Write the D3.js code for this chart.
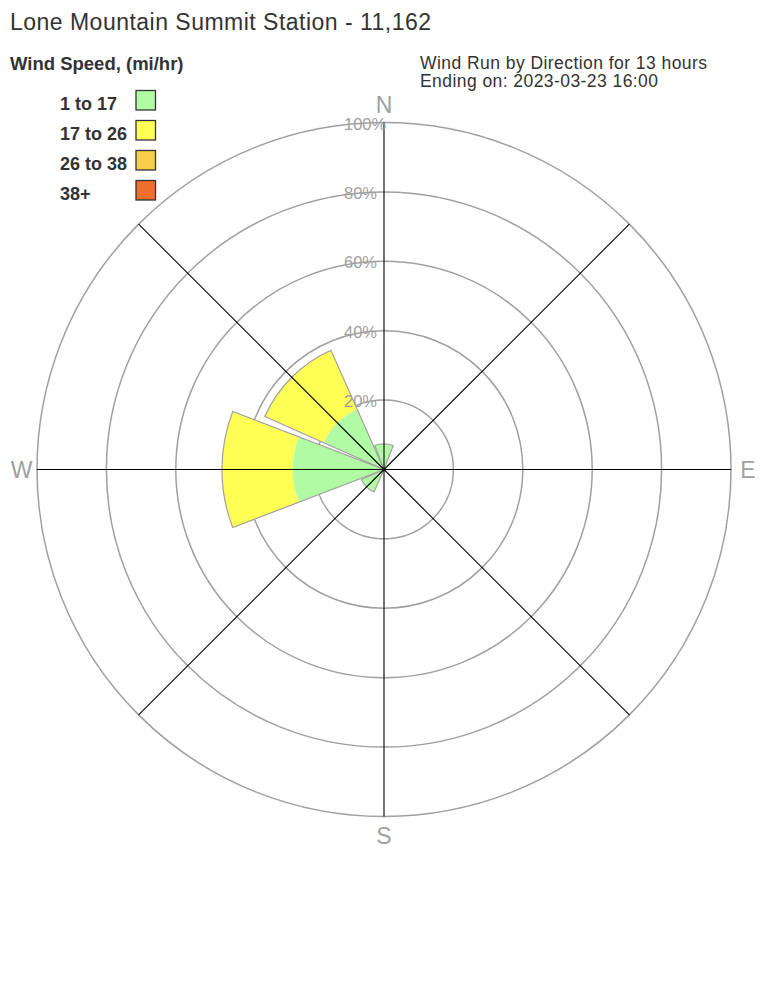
<!DOCTYPE html>
<html>
<head>
<meta charset="utf-8">
<script src="https://cdn.jsdelivr.net/npm/d3@7"></script>
<style>
  html, body { margin: 0; padding: 0; background: #fff; }
  svg { display: block; font-family: "Liberation Sans", Arial, sans-serif; }
</style>
</head>
<body>
<svg id="chart" width="768" height="1008"></svg>
<script>
// ---- data ----
const directions = ["N", "NE", "E", "SE", "S", "SW", "W", "NW"];
const directionAngles = [0, 45, 90, 135, 180, 225, 270, 315];
const speedBins = ["1 to 17", "17 to 26", "26 to 38", "38+"];
const binColors = ["#b2fba5", "#ffff55", "#f7cf4a", "#ee6f2d"];
// percent of wind run per direction, per speed bin
const bin1to17  = [7.4, 0, 0, 0, 0, 7.1, 26.3, 19.0];
const bin17to26 = [0,   0, 0, 0, 0, 0,   20.4, 18.6];
const bin26to38 = [0,   0, 0, 0, 0, 0,   0,    0];
const bin38plus = [0,   0, 0, 0, 0, 0,   0,    0];
const ringTicks = [20, 40, 60, 80, 100];
const tickLabels = ["20%", "40%", "60%", "80%", "100%"];
const compassLabels = ["N", "E", "S", "W"];

const title = "Lone Mountain Summit Station - 11,162";
const legendTitle = "Wind Speed, (mi/hr)";
const infoLines = ["Wind Run by Direction for 13 hours", "Ending on: 2023-03-23 16:00"];

// ---- layout ----
const svg = d3.select("#chart");
const cx = 384, cy = 469.5, R = 347;
const halfWidth = 21 * Math.PI / 180;
const r = d3.scaleLinear().domain([0, 100]).range([0, R]);
const series = [bin1to17, bin17to26, bin26to38, bin38plus];

// title
svg.append("text").attr("x", 10).attr("y", 30)
  .attr("font-size", 23).attr("fill", "#333")
  .attr("textLength", 421).attr("lengthAdjust", "spacing")
  .text(title);

// legend title
svg.append("text").attr("x", 10).attr("y", 70)
  .attr("font-size", 18.5).attr("font-weight", "bold").attr("fill", "#333")
  .text(legendTitle);

// legend items
const leg = svg.append("g");
speedBins.forEach((b, i) => {
  leg.append("text").attr("x", 60).attr("y", 110 + i * 30)
    .attr("font-size", 18).attr("font-weight", "bold").attr("fill", "#333")
    .text(b);
  leg.append("rect").attr("x", 136).attr("y", 90.5 + i * 30)
    .attr("width", 19.5).attr("height", 19.5)
    .attr("fill", binColors[i]).attr("stroke", "#333").attr("stroke-width", 1.3);
});

// info text
infoLines.forEach((t, i) => {
  svg.append("text").attr("x", 420).attr("y", 69 + i * 18)
    .attr("font-size", 17.5).attr("fill", "#333")
    .attr("textLength", i === 0 ? 287 : 238).attr("lengthAdjust", "spacing")
    .text(t);
});

const g = svg.append("g").attr("transform", `translate(${cx},${cy})`);

// rings
g.selectAll("circle.ring").data(ringTicks).join("circle")
  .attr("class", "ring")
  .attr("r", d => r(d))
  .attr("fill", "none").attr("stroke", "#a0a0a0").attr("stroke-width", 1.5);

// wedges
const arc = d3.arc();
const toRad = a => a * Math.PI / 180;
directions.forEach((dir, di) => {
  let cum = 0;
  series.forEach((s, si) => {
    const v = s[di];
    if (v > 0) {
      g.append("path")
        .attr("d", arc({
          innerRadius: r(cum), outerRadius: r(cum + v),
          startAngle: toRad(directionAngles[di]) - halfWidth,
          endAngle: toRad(directionAngles[di]) + halfWidth
        }))
        .attr("fill", binColors[si]);
    }
    cum += v;
  });
  if (cum > 0) {
    g.append("path")
      .attr("d", arc({
        innerRadius: 0, outerRadius: r(cum),
        startAngle: toRad(directionAngles[di]) - halfWidth,
        endAngle: toRad(directionAngles[di]) + halfWidth
      }))
      .attr("fill", "none").attr("stroke", "#a0a0a0").attr("stroke-width", 1.2);
  }
});

// axis spokes
directionAngles.forEach(a => {
  const t = toRad(a);
  g.append("line")
    .attr("x1", 0).attr("y1", 0)
    .attr("x2", r(100) * Math.sin(t)).attr("y2", -r(100) * Math.cos(t))
    .attr("stroke", "#000").attr("stroke-width", 1.1);
});

// tick labels
ringTicks.forEach((d, i) => {
  g.append("text").attr("x", -40).attr("y", -r(d) + 1)
    .attr("dominant-baseline", "central")
    .attr("font-size", 16.5).attr("fill", "#a0a0a0")
    .text(tickLabels[i]);
});

// compass labels
const compassPos = { N: [0, -364.5], E: [364, 0], S: [0, 366.5], W: [-362.5, 0] };
compassLabels.forEach(l => {
  g.append("text")
    .attr("x", compassPos[l][0]).attr("y", compassPos[l][1])
    .attr("text-anchor", "middle").attr("dominant-baseline", "central")
    .attr("font-size", 23).attr("fill", "#a0a0a0")
    .text(l);
});
</script>
</body>
</html>
